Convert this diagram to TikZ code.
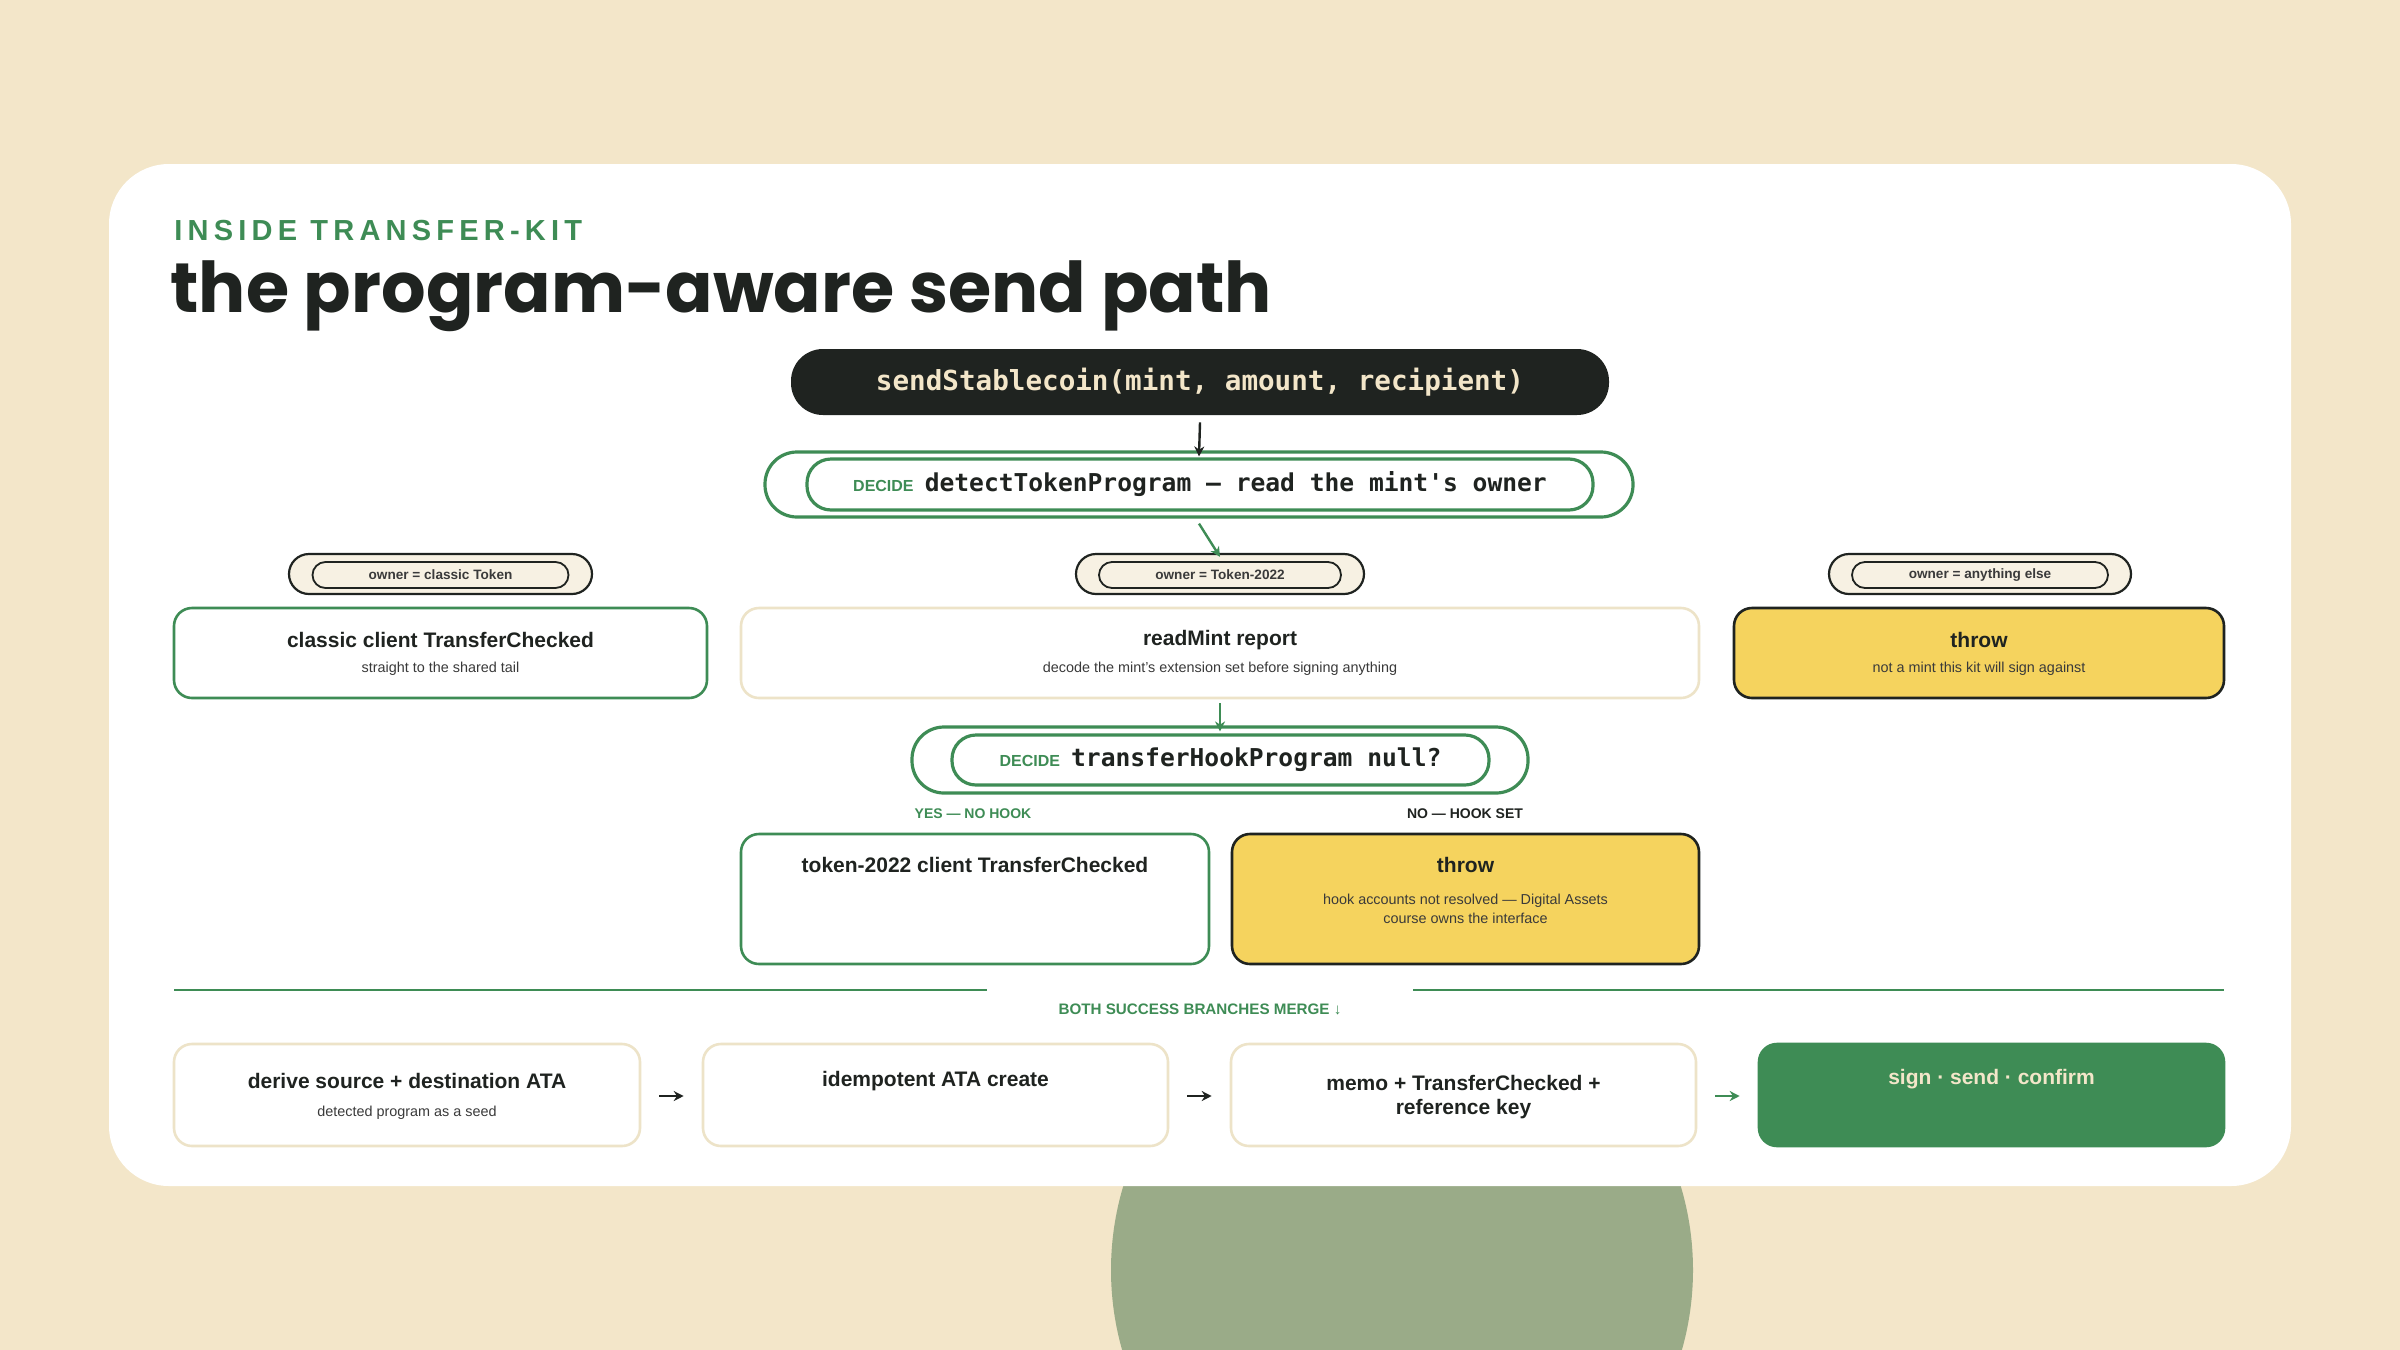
\documentclass[tikz,border=0pt]{standalone}
\usepackage{fontspec}
\setmainfont{Liberation Sans}
\setsansfont{Liberation Sans}
\setmonofont{DejaVu Sans Mono}
\newfontfamily\headfont{Poppins}
\newfontfamily\kickerfont[LetterSpace=18]{Liberation Sans}
\usetikzlibrary{arrows.meta}
\definecolor{bgc}{HTML}{F3E6C9}
\definecolor{grn}{HTML}{3E8C55}
\definecolor{drk}{HTML}{1F2320}
\definecolor{ylw}{HTML}{F5D35E}
\definecolor{crb}{HTML}{EDE3C8}
\definecolor{pfl}{HTML}{F7F1E3}
\definecolor{gtx}{HTML}{3A3A3A}
\definecolor{sage}{HTML}{9AAB88}
\tikzset{
  box/.style={rounded corners=9pt, line width=1.3pt, inner sep=0pt},
  pill/.style={rounded corners=16pt, line width=1.3pt, inner sep=0pt},
  ttl/.style={font=\bfseries\fontsize{10.5}{12}\selectfont, text=drk, align=center},
  sub/.style={font=\fontsize{7.2}{9.5}\selectfont, text=gtx, align=center},
  tag/.style={font=\bfseries\fontsize{6.8}{8}\selectfont, text=gtx},
  arr/.style={-{Stealth[length=5pt,width=5pt]}, line width=1.2pt},
}
\begin{document}
\begin{tikzpicture}[x=0.5pt,y=-0.5pt]
\fill[bgc] (0,0) rectangle (2400,1350);
\useasboundingbox (0,0) rectangle (2400,1350);
\fill[sage] (1402,1270) circle (291);
\fill[white] (109,164) [rounded corners=30pt] rectangle (2291,1186);
\node[anchor=base west, inner sep=0pt, text=grn, font=\kickerfont\bfseries\fontsize{14.5}{16}\selectfont] (kick) at (174,240) {INSIDE TRANSFER-KIT};
\node[anchor=base west, inner sep=0pt, text=drk, font=\headfont\bfseries\fontsize{35}{40}\selectfont] (head) at (170,312) {the program-aware send path};

% top pill
\node[pill, fill=drk, minimum width=409pt, minimum height=33pt, text=bgc, font=\ttfamily\bfseries\fontsize{13.8}{16}\selectfont] (call) at (1200,382) {sendStablecoin(mint, amount, recipient)};
% decide 1
\node[pill, draw=grn, line width=1.6pt, minimum width=434pt, minimum height=32.5pt] (d1) at (1199,484.5) {};
\node[pill, draw=grn, line width=1.6pt, rounded corners=12pt, minimum width=393pt, minimum height=25.5pt] (d1i) at (1200,484.5) {{\sffamily\bfseries\fontsize{8}{9}\selectfont\color{grn}DECIDE}\ \ {\ttfamily\bfseries\fontsize{12.3}{14}\selectfont\color{drk}detectTokenProgram — read the mint's owner}};
\draw[arr, drk] (call.south) ++(0,6) -- ([yshift=-3pt]d1.north);
% owner pills
\foreach \n/\x/\w/\iw/\t in {oa/440.5/151.5/128/owner = classic Token, ob/1220/144/121/owner = Token-2022, oc/1980/151/128/owner = anything else}{
  \node[pill, rounded corners=10pt, draw=drk, fill=pfl, line width=1.1pt, minimum width=\w pt, minimum height=20pt] (\n) at (\x,574) {};
  \node[pill, rounded corners=6.5pt, draw=drk, line width=0.9pt, minimum width=\iw pt, minimum height=13pt, tag] (\n i) at (\x,575) {\t};
}
% row boxes
\node[box, draw=grn, fill=white, minimum width=266.5pt, minimum height=45pt] (cl) at (440.5,653) {};
\node[box, draw=crb, fill=white, minimum width=479pt, minimum height=45pt] (rm) at (1220,653) {};
\node[box, draw=drk, fill=ylw, minimum width=245pt, minimum height=45pt] (th1) at (1979,653) {};
\draw[arr, grn] (d1.south) ++(0,5) -- ([yshift=-2pt]ob.north);
\node[ttl] (clt) at (440.5,640) {classic client TransferChecked};
\node[sub] (cls) at (440.5,669) {straight to the shared tail};
\node[ttl] (rmt) at (1220,640) {readMint report};
\node[sub] (rms) at (1220,669) {decode the mint's extension set before signing anything};
\node[ttl] (tht) at (1979,640) {throw};
\node[sub] (ths) at (1979,669) {not a mint this kit will sign against};
% decide 2
\node[pill, draw=grn, line width=1.6pt, minimum width=308pt, minimum height=33pt] (d2) at (1220,760) {};
\node[pill, draw=grn, line width=1.6pt, rounded corners=12pt, minimum width=268.5pt, minimum height=25pt] (d2i) at (1220.5,760) {{\sffamily\bfseries\fontsize{8}{9}\selectfont\color{grn}DECIDE}\ \ {\ttfamily\bfseries\fontsize{12.3}{14}\selectfont\color{drk}transferHookProgram null?}};
\draw[arr, grn] ([yshift=-2pt]rm.south) -- ([yshift=-3pt]d2.north);
\node[font=\bfseries\fontsize{7}{8}\selectfont, text=grn] (yes) at (973,814) {YES — NO HOOK};
\node[font=\bfseries\fontsize{7}{8}\selectfont, text=drk] (no) at (1465,814) {NO — HOOK SET};
\node[box, draw=grn, fill=white, minimum width=234pt, minimum height=65pt] (tk) at (975,899) {};
\node[box, draw=drk, fill=ylw, minimum width=233.5pt, minimum height=65pt] (th2) at (1465.5,899) {};
\node[ttl] (tkt) at (975,865) {token-2022 client TransferChecked};
\node[ttl] (th2t) at (1465.5,865) {throw};
\node[sub] (th2s) at (1465.5,909) {hook accounts not resolved — Digital Assets\\course owns the interface};
% merge line
\coordinate (l1) at (174,990); \coordinate (l2) at (987,990);
\coordinate (l3) at (1413,990); \coordinate (l4) at (2224,990);
\draw[grn, line width=1.4pt] (l1) -- (l2) (l3) -- (l4);
\node[font=\bfseries\fontsize{7.6}{9}\selectfont, text=grn] (mg) at (1200,1009) {BOTH SUCCESS BRANCHES MERGE ↓};
% bottom boxes
\node[box, draw=crb, fill=white, minimum width=233pt, minimum height=51pt] (b1) at (407,1095) {};
\node[box, draw=crb, fill=white, minimum width=232.5pt, minimum height=51pt] (b2) at (935.5,1095) {};
\node[box, draw=crb, fill=white, minimum width=232.5pt, minimum height=51pt] (b3) at (1463.5,1095) {};
\node[box, draw=grn, fill=grn, minimum width=232.5pt, minimum height=51pt] (b4) at (1991.5,1095) {};
\node[ttl] (b1t) at (407,1081) {derive source + destination ATA};
\node[sub] (b1s) at (407,1113) {detected program as a seed};
\node[ttl] (b2t) at (935.5,1081) {idempotent ATA create};
\node[ttl] (b3t) at (1463.5,1097) {memo + TransferChecked +\\reference key};
\node[ttl, text=bgc] (b4t) at (1991.5,1079) {sign · send · confirm};
\draw[arr, drk, shorten <=9pt, shorten >=9pt] (b1.east|-0,1096) -- (b2.west|-0,1096);
\draw[arr, drk, shorten <=9pt, shorten >=9pt] (b2.east|-0,1096) -- (b3.west|-0,1096);
\draw[arr, grn, shorten <=9pt, shorten >=9pt] (b3.east|-0,1096) -- (b4.west|-0,1096);
\end{tikzpicture}
\end{document}
